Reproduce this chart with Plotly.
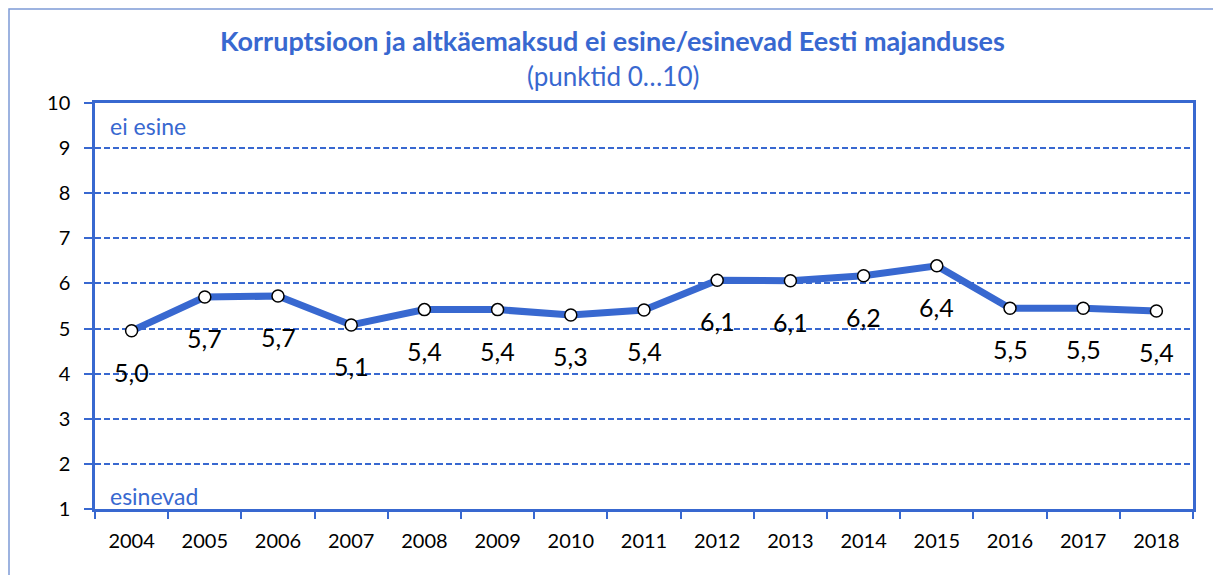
import plotly.graph_objects as go

years = ["2004", "2005", "2006", "2007", "2008", "2009", "2010", "2011",
         "2012", "2013", "2014", "2015", "2016", "2017", "2018"]
values = [4.95, 5.70, 5.72, 5.08, 5.42, 5.42, 5.30, 5.41,
          6.07, 6.06, 6.17, 6.39, 5.45, 5.45, 5.39]
labels = ["5,0", "5,7", "5,7", "5,1", "5,4", "5,4", "5,3", "5,4",
          "6,1", "6,1", "6,2", "6,4", "5,5", "5,5", "5,4"]

BLUE = "#3868d0"
FONT = "Lato, 'Noto Sans', sans-serif"

fig = go.Figure()
fig.add_trace(go.Scatter(
    x=years, y=values, mode="lines+markers",
    line=dict(color=BLUE, width=7),
    marker=dict(size=12, color="white", line=dict(color="black", width=1.5)),
    cliponaxis=False, hoverinfo="skip"
))

def px_x(px):
    return (px - 95) / 1098

def px_y(py):
    return (509 - py) / 406

annotations = [
    dict(text="<b>Korruptsioon ja altkäemaksud ei esine/esinevad Eesti majanduses</b>",
         x=px_x(612), y=px_y(40), xref="paper", yref="paper", xanchor="center", yanchor="middle",
         showarrow=False, font=dict(size=27, color=BLUE, family=FONT)),
    dict(text="(punktid 0…10)",
         x=px_x(613), y=px_y(76), xref="paper", yref="paper", xanchor="center", yanchor="middle",
         showarrow=False, font=dict(size=26, color=BLUE, family=FONT)),
    dict(text="ei esine", x=px_x(108), y=px_y(126), xref="paper", yref="paper",
         xanchor="left", yanchor="middle", showarrow=False,
         font=dict(size=23, color=BLUE, family=FONT)),
    dict(text="esinevad", x=px_x(108), y=px_y(496), xref="paper", yref="paper",
         xanchor="left", yanchor="middle", showarrow=False,
         font=dict(size=23, color=BLUE, family=FONT)),
]
for i, (v, lab) in enumerate(zip(values, labels)):
    annotations.append(dict(
        text=lab, x=i, y=v, xref="x", yref="y", showarrow=False,
        xanchor="center", yanchor="middle", yshift=-41,
        font=dict(size=25, color="#000000", family=FONT)))

fig.update_layout(
    width=1213, height=575,
    margin=dict(l=95, r=20, t=103, b=66),
    paper_bgcolor="white", plot_bgcolor="white",
    showlegend=False,
    font=dict(family=FONT, color="#000000", size=20),
    xaxis=dict(
        type="category", showgrid=False, showline=True, mirror=True,
        linecolor=BLUE, linewidth=2.5, ticks="outside", tickson="boundaries",
        ticklen=7, tickcolor=BLUE, tickwidth=2,
        tickfont=dict(size=20, color="#000000"), ticklabelstandoff=12,
        range=[-0.5, 14.5], fixedrange=True,
    ),
    yaxis=dict(
        range=[1, 10], dtick=1, tick0=1, showgrid=True,
        gridcolor=BLUE, griddash="6px,3px", gridwidth=2,
        showline=True, mirror=True, linecolor=BLUE, linewidth=2.5,
        ticks="outside", ticklen=8, tickcolor=BLUE, tickwidth=2,
        tickfont=dict(size=20, color="#000000"), ticklabelstandoff=10,
        zeroline=False, fixedrange=True,
    ),
    annotations=annotations,
    shapes=[
        dict(type="rect", xref="paper", yref="paper",
             x0=px_x(9), x1=px_x(1240), y0=px_y(9), y1=px_y(600),
             line=dict(color="#7d9ad6", width=1.5), fillcolor="rgba(0,0,0,0)", layer="below"),
    ],
)

fig.write_html("out.html", config={"displayModeBar": False},
               post_script="document.body.style.margin='0';document.body.style.overflow='hidden';")
